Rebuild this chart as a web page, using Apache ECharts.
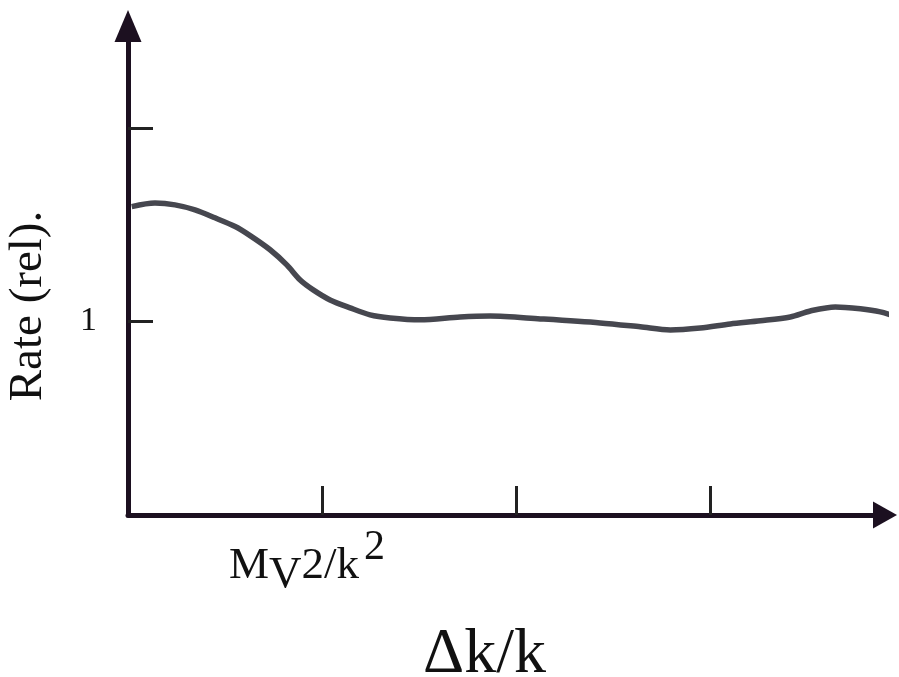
<!DOCTYPE html>
<html>
<head>
<meta charset="utf-8">
<script src="https://cdn.jsdelivr.net/npm/echarts@6/dist/echarts.min.js"></script>
<style>
  html, body { margin: 0; padding: 0; background: #ffffff; }
  #chart { width: 899px; height: 677px; }
</style>
</head>
<body>
<div id="chart"></div>
<script>
// Relative rate as a function of Δk/k (x in units of the marked ticks)
const deltaK = [0.019, 0.139, 0.242, 0.345, 0.448, 0.552, 0.629, 0.732, 0.818, 0.887, 0.954, 1.041, 1.144, 1.247, 1.351, 1.505, 1.711, 1.866, 2.124, 2.433, 2.639, 2.794, 2.948, 3.103, 3.258, 3.412, 3.515, 3.644, 3.773, 3.876, 3.964];
const rate   = [1.593, 1.611, 1.602, 1.576, 1.535, 1.490, 1.443, 1.370, 1.292, 1.214, 1.163, 1.111, 1.070, 1.034, 1.018, 1.008, 1.023, 1.028, 1.013, 0.992, 0.972, 0.956, 0.966, 0.987, 1.003, 1.023, 1.054, 1.075, 1.065, 1.049, 1.023];

// Tick positions and the text shown at them
const xTicks = [1, 2, 3];
const yTicks = [1, 2];
const xTickLabels = { 1: '{m|M}{v|V}{m|2/k}{s|2}' };
const yTickLabels = { 1: '1' };

const axisColor = '#1c1020';
const curveColor = '#46474f';
const serif = '"Liberation Serif", "DejaVu Serif", serif';

const chart = echarts.init(document.getElementById('chart'));
chart.setOption({
  backgroundColor: '#ffffff',
  animation: false,
  grid: { left: 128, right: 14, top: 31, bottom: 162, outerBoundsMode: 'none', containLabel: false },
  xAxis: {
    type: 'value',
    min: 0, max: 3.9, interval: 1,
    name: 'Δk/k',
    nameLocation: 'middle',
    nameGap: 108,
    nameTextStyle: { fontFamily: serif, fontSize: 64, color: '#111', padding: [0, 44, 0, 0] },
    axisLine: { show: true, symbol: ['none', 'triangle'], symbolSize: [27, 24], symbolOffset: [0, 0],
                lineStyle: { color: axisColor, width: 5 } },
    axisTick: { show: true, inside: true, length: 29, customValues: xTicks,
                lineStyle: { color: '#222', width: 3 } },
    axisLabel: {
      margin: 12,
      customValues: Object.keys(xTickLabels).map(Number),
      formatter: v => xTickLabels[v] || '',
      padding: [0, 30, 0, 0],
      rich: {
        m: { fontFamily: serif, fontSize: 45, color: '#111' },
        v: { fontFamily: serif, fontSize: 45, color: '#111', padding: [18, 0, 0, 0] },
        s: { fontFamily: serif, fontSize: 42, color: '#111', padding: [0, 0, 36, 5] }
      }
    },
    splitLine: { show: false }
  },
  yAxis: {
    type: 'value',
    min: 0, max: 2.5, interval: 1,
    name: 'Rate (rel).',
    nameLocation: 'middle',
    nameGap: 76,
    nameRotate: 90,
    nameTextStyle: { fontFamily: serif, fontSize: 47, color: '#111', padding: [0, 66, 0, 0] },
    axisLine: { show: true, symbol: ['none', 'triangle'], symbolSize: [27, 32], symbolOffset: [0, 5],
                lineStyle: { color: axisColor, width: 5 } },
    axisTick: { show: true, inside: true, length: 25, customValues: yTicks,
                lineStyle: { color: '#222', width: 3 } },
    axisLabel: {
      margin: 31,
      customValues: Object.keys(yTickLabels).map(Number),
      fontFamily: serif, fontSize: 34, color: '#111',
      formatter: v => yTickLabels[v] || ''
    },
    splitLine: { show: false }
  },
  series: [{
    type: 'line',
    data: deltaK.map((x, i) => [x, rate[i]]),
    smooth: 0.3,
    showSymbol: false,
    clip: false,
    lineStyle: { color: curveColor, width: 5.5 }
  }]
});
</script>
</body>
</html>
